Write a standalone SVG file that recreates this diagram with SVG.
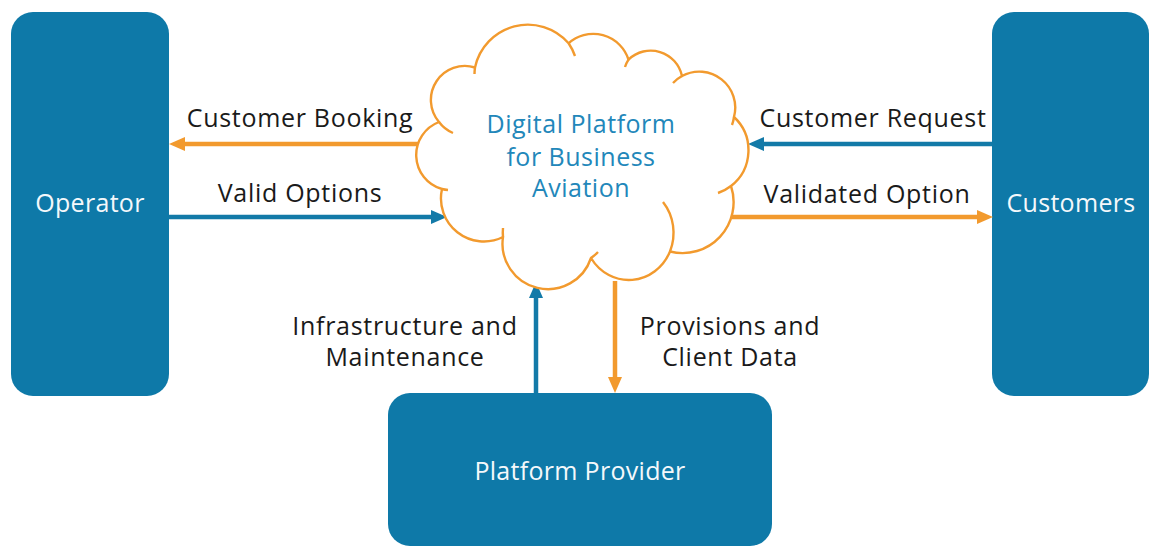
<svg xmlns="http://www.w3.org/2000/svg" width="1149" height="546" viewBox="0 0 1149 546">
<style>
.box{fill:#0E79A8}
.boxtxt{fill:#F4F8FB;font-family:"Open Sans","Liberation Sans",sans-serif;font-size:25px;font-weight:380;letter-spacing:0.3px;text-anchor:middle}
.lbl{fill:#1A1A1A;font-family:"Open Sans","Liberation Sans",sans-serif;font-size:25px;font-weight:380;letter-spacing:0.7px;text-anchor:middle}
.cloudtxt{fill:#2287BA;font-family:"Open Sans","Liberation Sans",sans-serif;font-size:25px;font-weight:380;letter-spacing:0.5px;text-anchor:middle}
.cloud{fill:#FFFFFF;stroke:#F29A2E;stroke-width:2.4;stroke-linejoin:round}
.tick{fill:none;stroke:#F29A2E;stroke-width:2.4;stroke-linecap:butt}
.org{fill:none;stroke:#F29A2E;stroke-width:4.5;marker-end:url(#ho)}
.blu{fill:none;stroke:#137AA8;stroke-width:4.5;marker-end:url(#hb)}
</style>
<defs>
<marker id="ho" markerUnits="userSpaceOnUse" viewBox="0 0 16 14" markerWidth="16" markerHeight="14" refX="4" refY="7" orient="auto"><path d="M0,0 L16,7 L0,14 Z" fill="#F29A2E"/></marker>
<marker id="hb" markerUnits="userSpaceOnUse" viewBox="0 0 16 14" markerWidth="16" markerHeight="14" refX="4" refY="7" orient="auto"><path d="M0,0 L16,7 L0,14 Z" fill="#137AA8"/></marker>
</defs>
<rect width="1149" height="546" fill="#FFFFFF"/>

<g id="operator">
<rect class="box" x="11" y="12" width="158" height="384" rx="22"/>
<text class="boxtxt" x="90" y="212">Operator</text>
</g>

<g id="customers">
<rect class="box" x="992" y="12" width="157" height="384" rx="22"/>
<text class="boxtxt" x="1071" y="212">Customers</text>
</g>

<g id="platform-provider">
<rect class="box" x="388" y="393" width="384" height="153" rx="22"/>
<text class="boxtxt" x="580" y="480">Platform Provider</text>
</g>

<g id="connectors">
<path class="org" d="M420,144 H181"/>
<path class="blu" d="M169,217 H435"/>
<path class="blu" d="M992,144 H760"/>
<path class="org" d="M732,217 H981"/>
<path class="blu" d="M536,393 V294"/>
<path class="org" d="M615,281 V381"/>
<text class="lbl" x="300" y="127">Customer Booking</text>
<text class="lbl" x="300" y="202">Valid Options</text>
<text class="lbl" x="873" y="127">Customer Request</text>
<text class="lbl" x="867" y="203">Validated Option</text>
<text class="lbl" x="405" y="335">Infrastructure and</text>
<text class="lbl" x="405" y="366">Maintenance</text>
<text class="lbl" x="730" y="335">Provisions and</text>
<text class="lbl" x="730" y="366">Client Data</text>
</g>

<g id="digital-platform">
<path class="cloud" d="M439,122 A34,34 0 0 1 475,67.5 A54,54 0 0 1 568.6,43.3 A37,37 0 0 1 628.5,59.6 A32,32 0 0 1 682,76 A36,36 0 0 1 734,117 A45.4,45.4 0 0 1 731,186 A51,51 0 0 1 670,251.5 A45,48 0 0 1 591,258 A45.4,45.4 0 0 1 503,237 A43,43 0 0 1 442,189 A35.3,35.3 0 0 1 439,122 Z"/>
<path class="tick" d="M475,67.5 A54,54 0 0 0 474.5,74"/>
<path class="tick" d="M568.6,43.3 A54,54 0 0 1 575,56"/>
<path class="tick" d="M628.5,59.6 A32,32 0 0 0 625,67"/>
<path class="tick" d="M682,76 A36,36 0 0 0 673,83"/>
<path class="tick" d="M734,117 A36,36 0 0 1 732,125"/>
<path class="tick" d="M731,186 A45.4,45.4 0 0 1 718,193"/>
<path class="tick" d="M670,251.5 A45,48 0 0 0 663,202"/>
<path class="tick" d="M591,258 A48,48 0 0 0 598,252"/>
<path class="tick" d="M503,237 A45.4,45.4 0 0 1 503,228"/>
<path class="tick" d="M442,189 A35.3,35.3 0 0 0 448,190"/>
<path class="tick" d="M439,122 A34,34 0 0 0 453,133"/>
<text class="cloudtxt" x="581" y="133">Digital Platform</text>
<text class="cloudtxt" x="581" y="166">for Business</text>
<text class="cloudtxt" x="581" y="197">Aviation</text>
</g>
</svg>
